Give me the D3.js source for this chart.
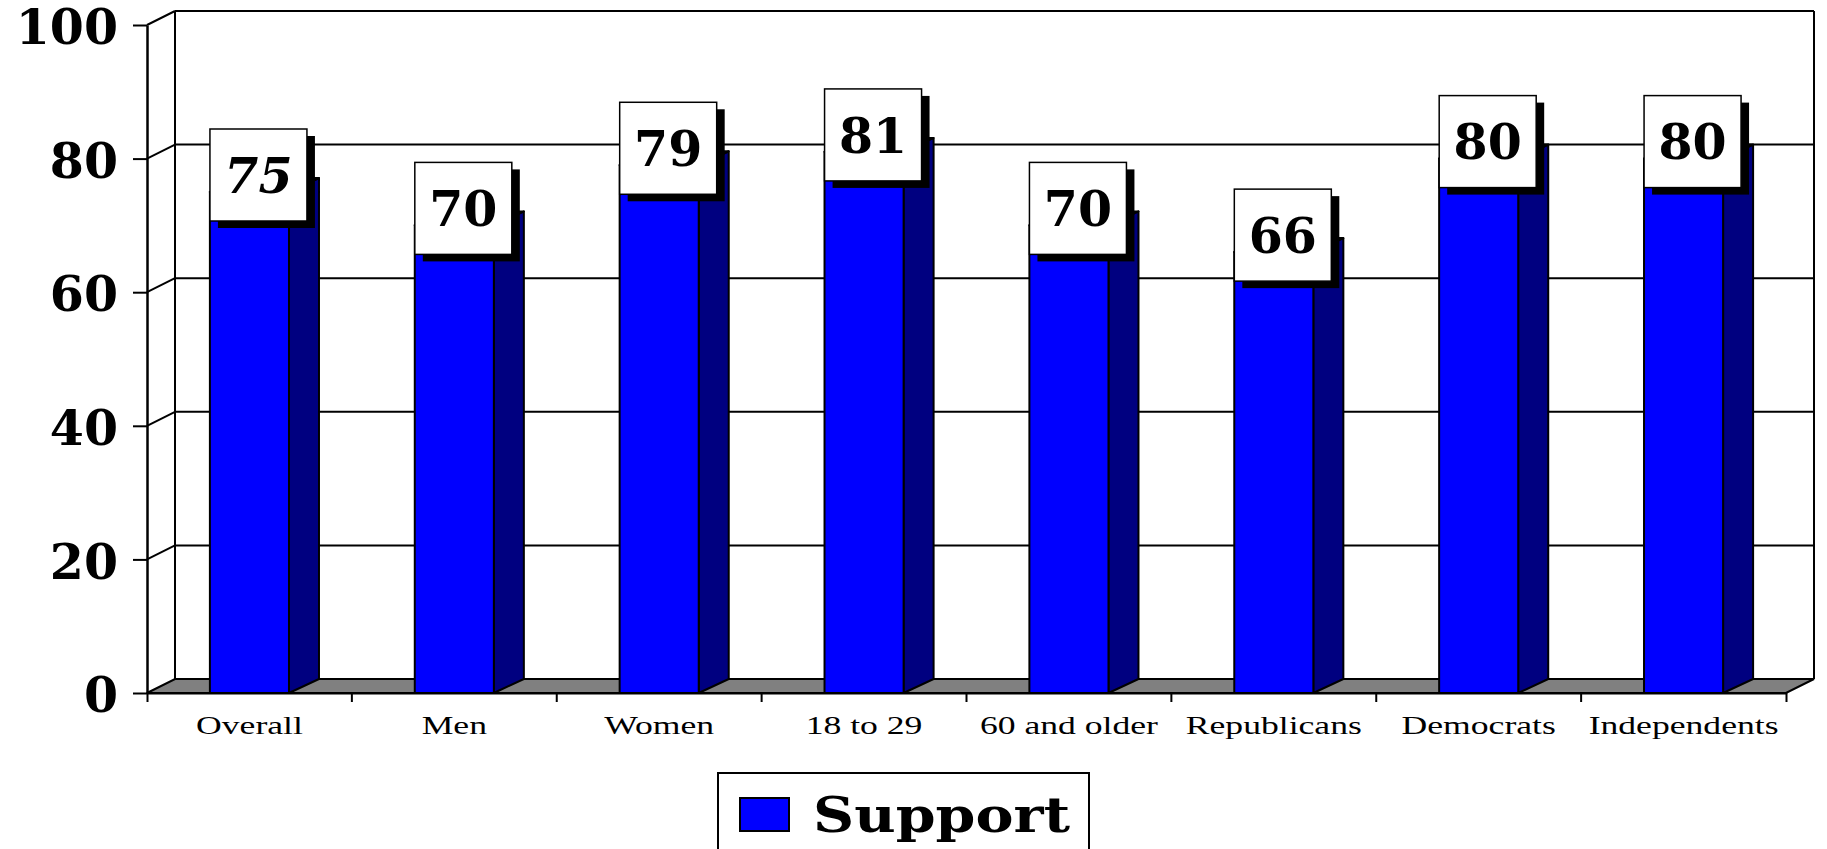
<!DOCTYPE html>
<html>
<head>
<meta charset="utf-8">
<script src="https://cdn.jsdelivr.net/npm/d3@7"></script>
<style>
  body { margin: 0; background: #fff; }
  svg { display: block; }
</style>
</head>
<body>
<div id="chart"></div>
<script>
var categories = ["Overall", "Men", "Women", "18 to 29", "60 and older", "Republicans", "Democrats", "Independents"];
var support = [75, 70, 79, 81, 70, 66, 80, 80];
var yTicks = [0, 20, 40, 60, 80, 100];
var seriesName = "Support";

var width = 1827,
    height = 849;

// front plane of the 3d box, and the depth offset to the back wall
// (note: "top" is a read-only window global, so don't use it as a name)
var plotLeft = 147, plotRight = 1786, plotBottom = 693, plotTop = 25;
var dx = 28, dy = 14, barDx = 30;

var x = d3.scaleBand()
    .domain(categories)
    .range([plotLeft, plotRight])
    .paddingInner(0.614)
    .paddingOuter(0.307);

var y = d3.scaleLinear()
    .domain([0, 100])
    .range([plotBottom, plotTop]);

var svg = d3.select("#chart").append("svg")
    .attr("width", width)
    .attr("height", height)

svg.append("rect").attr("width", width).attr("height", height).attr("fill", "#fff");

var serif = "'DejaVu Serif', serif";

// back wall gridlines + left wall diagonals
yTicks.filter(function (v) { return v > 0; }).forEach(function (v) {
    svg.append("line")
        .attr("x1", plotLeft + dx).attr("x2", plotRight + dx)
        .attr("y1", y(v) - dy).attr("y2", y(v) - dy)
        .attr("stroke", "#000").attr("stroke-width", 2);
    svg.append("line")
        .attr("x1", plotLeft).attr("x2", plotLeft + dx)
        .attr("y1", y(v)).attr("y2", y(v) - dy)
        .attr("stroke", "#000").attr("stroke-width", 2);
});

// back wall vertical edges
[plotLeft + dx, plotRight + dx].forEach(function (xx) {
    svg.append("line")
        .attr("x1", xx).attr("x2", xx)
        .attr("y1", y(100) - dy).attr("y2", y(0) - dy)
        .attr("stroke", "#000").attr("stroke-width", 2);
});

// floor
svg.append("polygon")
    .attr("points", [[plotLeft, y(0)], [plotRight, y(0)], [plotRight + dx, y(0) - dy], [plotLeft + dx, y(0) - dy]].join(" "))
    .attr("fill", "#808080")
    .attr("stroke", "#000")
    .attr("stroke-width", 2);

// bars
var bars = svg.selectAll(".bar")
    .data(support).enter().append("g")
    .attr("class", "bar");

bars.append("polygon")
    .attr("points", function (d, i) {
        var x1 = x(categories[i]) + x.bandwidth();
        return [[x1, y(d)], [x1 + barDx, y(d) - dy], [x1 + barDx, y(0) - dy], [x1, y(0)]].join(" ");
    })
    .attr("fill", "#000080")
    .attr("stroke", "#000").attr("stroke-width", 2).attr("stroke-linejoin", "round");

bars.append("polygon")
    .attr("points", function (d, i) {
        var x0 = x(categories[i]), x1 = x0 + x.bandwidth();
        return [[x0, y(d)], [x1, y(d)], [x1 + barDx, y(d) - dy], [x0 + barDx, y(d) - dy]].join(" ");
    })
    .attr("fill", "#3333ff")
    .attr("stroke", "#000").attr("stroke-width", 2).attr("stroke-linejoin", "round");

bars.append("rect")
    .attr("x", function (d, i) { return x(categories[i]); })
    .attr("y", function (d) { return y(d); })
    .attr("width", x.bandwidth())
    .attr("height", function (d) { return y(0) - y(d); })
    .attr("fill", "#0000ff")
    .attr("stroke", "#000").attr("stroke-width", 2);

// y axis on the front plane
var yAxis = svg.append("g")
    .attr("transform", "translate(" + plotLeft + ",0)")
    .call(d3.axisLeft(y).tickValues(yTicks).tickSize(14).tickSizeOuter(0).tickPadding(15).tickFormat(d3.format("d")));

yAxis.select(".domain").attr("stroke", "#000").attr("stroke-width", 2.5);
yAxis.selectAll(".tick line").attr("stroke", "#000").attr("stroke-width", 2);
yAxis.selectAll("text")
    .attr("dy", "0.38em")
    .attr("fill", "#000")
    .style("font-family", serif)
    .style("font-weight", "bold")
    .style("font-size", "49px");

// x axis: ticks on band edges, labels in the middle
var xAxis = svg.append("g")
    .attr("transform", "translate(0," + plotBottom + ")")
    .call(d3.axisBottom(x).tickSizeInner(0).tickSizeOuter(9));

xAxis.select(".domain").attr("stroke", "#000").attr("stroke-width", 2);
xAxis.selectAll(".tick line").remove();
xAxis.selectAll("text")
    .attr("y", null).attr("dy", null)
    .attr("transform", "translate(0,41) scale(1.37,1)")
    .attr("fill", "#000")
    .style("font-family", "'Liberation Serif', 'Times New Roman', serif")
    .style("font-size", "26px");

categories.slice(1).forEach(function (c) {
    var bx = x(c) - (x.step() - x.bandwidth()) / 2;
    xAxis.append("line")
        .attr("x1", bx).attr("x2", bx)
        .attr("y1", 0).attr("y2", 9)
        .attr("stroke", "#000").attr("stroke-width", 2);
});

// value labels
var labels = svg.selectAll(".label")
    .data(support).enter().append("g")
    .attr("class", "label")
    .attr("transform", function (d, i) {
        var cx = x(categories[i]) + x.bandwidth() / 2 + 9;
        var cy = y(d) - 17;
        return "translate(" + cx + "," + cy + ")";
    });

labels.append("rect")
    .attr("x", -48.5 + 8).attr("y", -46 + 7)
    .attr("width", 97).attr("height", 92)
    .attr("fill", "#000");

labels.append("rect")
    .attr("x", -48.5).attr("y", -46)
    .attr("width", 97).attr("height", 92)
    .attr("fill", "#fff")
    .attr("stroke", "#000").attr("stroke-width", 1.5);

labels.append("text")
    .attr("text-anchor", "middle")
    .attr("dy", "0.36em")
    .attr("fill", "#000")
    .style("font-family", serif)
    .style("font-weight", "bold")
    .style("font-size", "49px")
    .style("font-style", function (d, i) { return i === 0 ? "italic" : "normal"; })
    .text(function (d) { return d; });

// legend
var legend = svg.append("g");
legend.append("rect")
    .attr("x", 718).attr("y", 773)
    .attr("width", 371).attr("height", 100)
    .attr("fill", "#fff")
    .attr("stroke", "#000").attr("stroke-width", 2);
legend.append("rect")
    .attr("x", 740).attr("y", 798)
    .attr("width", 49).attr("height", 33)
    .attr("fill", "#0000ff")
    .attr("stroke", "#000").attr("stroke-width", 2);
legend.append("text")
    .attr("x", 813).attr("y", 832)
    .attr("textLength", 257)
    .attr("lengthAdjust", "spacingAndGlyphs")
    .attr("fill", "#000")
    .style("font-family", serif)
    .style("font-weight", "bold")
    .style("font-size", "48px")
    .text(seriesName);
</script>
</body>
</html>
